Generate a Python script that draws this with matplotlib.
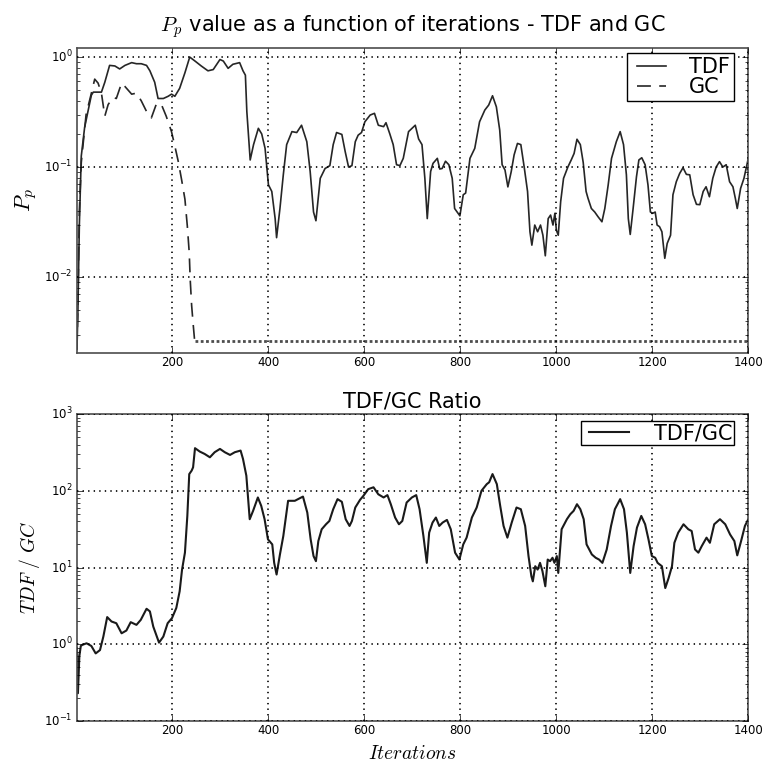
import matplotlib
matplotlib.use('Agg')
import matplotlib.pyplot as plt

# old matplotlib look: ticks inside, dotted black grid
plt.style.use('classic')
plt.rcParams['mathtext.fontset'] = 'cm'
plt.rcParams['figure.facecolor'] = 'white'
plt.rcParams['savefig.facecolor'] = 'white'

# P_p of TDF
tdf_iter = [1, 3, 6, 10, 17, 31, 35, 52, 59, 69, 80, 90, 101, 115, 125, 135, 146, 153, 163, 170,
            181, 191, 198, 205, 215, 226, 236, 247, 260, 274, 285, 299, 306, 316, 326, 340, 347, 352,
            355, 362, 369, 379, 386, 393, 400, 407, 414, 417, 424, 431, 438, 449, 459, 469, 480, 487,
            494, 499, 508, 518, 528, 535, 542, 553, 560, 567, 574, 581, 587, 594, 601, 612, 621, 629,
            640, 645, 653, 660, 667, 674, 681, 692, 706, 713, 720, 726, 731, 738, 743, 752, 757, 762,
            769, 776, 783, 788, 795, 799, 806, 811, 820, 830, 840, 851, 859, 867, 875, 882, 887, 893,
            899, 906, 912, 919, 926, 933, 940, 945, 949, 955, 961, 967, 972, 977, 983, 988, 993, 997,
            1000, 1004, 1009, 1015, 1024, 1031, 1037, 1043, 1050, 1056, 1062, 1066, 1073, 1080, 1087,
            1095, 1101, 1108, 1115, 1125, 1133, 1140, 1146, 1150, 1154, 1160, 1167, 1172, 1178, 1185,
            1191, 1196, 1201, 1206, 1210, 1215, 1220, 1226, 1231, 1238, 1243, 1250, 1257, 1264, 1271,
            1278, 1285, 1292, 1299, 1306, 1312, 1319, 1326, 1333, 1340, 1347, 1354, 1361, 1368, 1373,
            1377, 1384, 1391, 1400]
tdf_val = [0.0022, 0.005, 0.03, 0.126, 0.23, 0.45, 0.48, 0.48, 0.59, 0.84, 0.83, 0.78, 0.84, 0.89,
           0.87, 0.87, 0.84, 0.75, 0.59, 0.42, 0.42, 0.44, 0.46, 0.44, 0.52, 0.72, 1.0, 0.92, 0.83,
           0.75, 0.77, 0.95, 0.92, 0.79, 0.86, 0.89, 0.75, 0.685, 0.32, 0.116, 0.16, 0.225, 0.20,
           0.148, 0.069, 0.060, 0.034, 0.0228, 0.042, 0.085, 0.16, 0.21, 0.206, 0.24, 0.17, 0.091,
           0.039, 0.0325, 0.079, 0.097, 0.103, 0.16, 0.206, 0.198, 0.138, 0.10, 0.103, 0.17, 0.195,
           0.206, 0.258, 0.297, 0.308, 0.24, 0.233, 0.253, 0.20, 0.16, 0.105, 0.103, 0.12, 0.21, 0.24,
           0.18, 0.16, 0.079, 0.034, 0.091, 0.108, 0.12, 0.096, 0.097, 0.113, 0.105, 0.079, 0.042,
           0.038, 0.036, 0.056, 0.058, 0.12, 0.148, 0.258, 0.33, 0.366, 0.445, 0.353, 0.217, 0.105,
           0.094, 0.066, 0.091, 0.129, 0.164, 0.16, 0.10, 0.060, 0.0258, 0.0195, 0.0297, 0.0258,
           0.0297, 0.024, 0.0156, 0.034, 0.0366, 0.0297, 0.038, 0.0267, 0.024, 0.0484, 0.079, 0.10,
           0.116, 0.133, 0.179, 0.16, 0.11, 0.06, 0.052, 0.042, 0.039, 0.0353, 0.0318, 0.042, 0.0686,
           0.12, 0.17, 0.21, 0.16, 0.085, 0.034, 0.0244, 0.042, 0.0817, 0.116, 0.1215, 0.105, 0.0686,
           0.039, 0.038, 0.039, 0.0297, 0.0287, 0.0258, 0.0148, 0.0202, 0.024, 0.056, 0.0736, 0.0875,
           0.0986, 0.0858, 0.085, 0.056, 0.0458, 0.0455, 0.060, 0.0662, 0.0537, 0.079, 0.10, 0.112,
           0.10, 0.105, 0.0736, 0.0662, 0.052, 0.042, 0.064, 0.079, 0.12]

# P_p of GC, the dashed line
gc_iter = [1, 3, 6, 10, 20, 30, 38, 45, 52, 59, 66, 76, 83, 94, 101, 115, 125, 135, 146, 156, 167,
           177, 187, 198, 205, 212, 219, 226, 231, 235, 237, 240, 243, 246]
gc_val = [0.0022, 0.006, 0.04, 0.11, 0.3, 0.45, 0.63, 0.58, 0.47, 0.29, 0.37, 0.43, 0.42, 0.58, 0.54,
          0.46, 0.47, 0.40, 0.32, 0.28, 0.38, 0.37, 0.29, 0.21, 0.155, 0.113, 0.077, 0.051, 0.029,
          0.0166, 0.0095, 0.0055, 0.0038, 0.0027]
# GC stays on a floor after ~250 iterations
gc_floor_iter = [246, 1400]
gc_floor_val = [0.0026, 0.0026]

# TDF/GC ratio, bottom panel
ratio_iter = [1, 3, 6, 9, 12, 21, 31, 40, 49, 56, 64, 73, 83, 94, 104, 113, 125, 134, 146, 153, 160,
              172, 181, 190, 199, 208, 215, 220, 226, 231, 235, 240, 243, 247, 257, 267, 278, 288, 299,
              309, 320, 330, 342, 347, 354, 361, 368, 378, 385, 392, 399, 408, 412, 417, 424, 431, 441,
              455, 472, 481, 488, 494, 499, 504, 511, 520, 527, 535, 544, 553, 561, 569, 574, 581, 591,
              598, 608, 619, 629, 640, 648, 655, 664, 672, 679, 688, 699, 708, 715, 723, 730, 735, 742,
              749, 756, 763, 772, 780, 789, 798, 806, 813, 824, 834, 844, 855, 860, 867, 876, 883, 890,
              898, 907, 917, 926, 935, 942, 948, 951, 956, 961, 966, 971, 977, 982, 987, 992, 996, 1001,
              1004, 1011, 1022, 1029, 1036, 1043, 1050, 1057, 1063, 1074, 1082, 1089, 1096, 1105, 1114,
              1122, 1133, 1141, 1147, 1154, 1161, 1168, 1177, 1185, 1192, 1199, 1206, 1211, 1220, 1227,
              1234, 1241, 1246, 1254, 1265, 1275, 1282, 1289, 1296, 1303, 1313, 1320, 1329, 1341, 1352,
              1362, 1371, 1377, 1385, 1393, 1400]
ratio_val = [0.9, 0.23, 0.7, 0.95, 0.98, 1.03, 0.95, 0.76, 0.84, 1.26, 2.26, 1.98, 1.88, 1.39, 1.51,
             1.94, 1.79, 2.08, 2.9, 2.68, 1.70, 1.05, 1.26, 1.88, 2.19, 2.97, 4.9, 9.4, 15.6, 47, 165,
             183, 202, 359, 324, 302, 273, 318, 351, 318, 293, 318, 334, 260, 157, 42.6, 54.7, 81.8,
             63.6, 42.6, 23.3, 20, 11.5, 8.1, 14.8, 25.7, 74, 74, 84, 52, 23.3, 14.1, 12.1, 22.1, 31.5,
             36.6, 40.4, 57.5, 77.8, 71.8, 42.6, 34.8, 40.4, 60.5, 76.3, 86, 105, 111, 90, 81.8, 87.8,
             66.8, 44.8, 36.6, 40.4, 70.3, 81.8, 87.8, 57.5, 25.7, 11.5, 28.5, 38.5, 44.8, 34.8, 38.5,
             41.7, 31.5, 15.6, 12.7, 20, 24.5, 44.8, 60.5, 100, 122, 129, 165, 122, 63.6, 34.8, 24.5,
             38.5, 60.5, 57.5, 34.8, 14.1, 7.7, 6.6, 10.4, 9.4, 11.5, 9.0, 5.7, 12.7, 12.1, 13.4,
             11.5, 14.1, 8.5, 31.5, 42.6, 49.4, 54.7, 66.8, 57.5, 42.6, 20, 14.8, 13.4, 12.7, 11.5,
             17.2, 34.8, 57.5, 77.8, 57.5, 28.5, 8.5, 19, 33.1, 47, 36.6, 23.3, 14.1, 13.4, 11.5, 10.4,
             5.4, 7.3, 10.4, 21, 28.5, 36.6, 31.5, 29.9, 17.2, 15.6, 19, 24.5, 21, 36.6, 42.6, 36.6,
             27, 22.1, 14.4, 22.1, 34.8, 42.6]

fig = plt.figure(figsize=(7.62, 7.65), dpi=100)

# top panel
ax1 = fig.add_axes([0.101, 0.5386, 0.881, 0.3987])
ax1.plot(tdf_iter, tdf_val, color='0.15', linewidth=1.2, linestyle='-', label='TDF')
ax1.plot(gc_iter, gc_val, color='0.15', linewidth=1.2, dashes=(10, 6), label='GC')
ax1.plot(gc_floor_iter, gc_floor_val, color='0.3', linewidth=2.0, dashes=(2.0, 1.8))
ax1.set_yscale('log')
ax1.set_xlim(1, 1400)
ax1.set_ylim(0.00204, 1.21)
ax1.set_xticks([200, 400, 600, 800, 1000, 1200, 1400])
ax1.grid(True, which='major', linestyle=':', color='k', linewidth=1.2)
ax1.set_title(r'$P_p$ value as a function of iterations - TDF and GC', fontsize=15, pad=12)
ax1.set_ylabel(r'$P_p$', fontsize=16, labelpad=4)
ax1.legend(loc='upper right', bbox_to_anchor=(0.979, 0.984), borderaxespad=0, fontsize=15,
           handlelength=2.0, borderpad=0.2, labelspacing=0.0, handletextpad=0.8)

# bottom panel
ax2 = fig.add_axes([0.101, 0.0575, 0.881, 0.4013])
ax2.plot(ratio_iter, ratio_val, color='0.1', linewidth=1.5, label='TDF/GC')
ax2.set_yscale('log')
ax2.set_xlim(1, 1400)
ax2.set_ylim(0.1, 1000)
ax2.set_xticks([200, 400, 600, 800, 1000, 1200, 1400])
ax2.grid(True, which='major', linestyle=':', color='k', linewidth=1.2)
ax2.set_title('TDF/GC Ratio', fontsize=15, pad=5)
ax2.set_ylabel(r'$TDF\ /\ GC$', fontsize=14, labelpad=2)
ax2.set_xlabel(r'$Iterations$', fontsize=14, labelpad=5)
ax2.legend(loc='upper right', bbox_to_anchor=(0.979, 0.977), borderaxespad=0, fontsize=15,
           handlelength=2.5, borderpad=0.1, handletextpad=0.9)

for ax in [ax1, ax2]:
    ax.tick_params(axis='both', which='major', labelsize=8.5, length=4, pad=3)
    ax.tick_params(axis='x', which='major', pad=2)
    ax.tick_params(axis='both', which='minor', length=2)
    for s in ax.spines.values():
        s.set_linewidth(1.2)
        s.set_color('0.3')

fig.savefig('out.png', dpi=100)
